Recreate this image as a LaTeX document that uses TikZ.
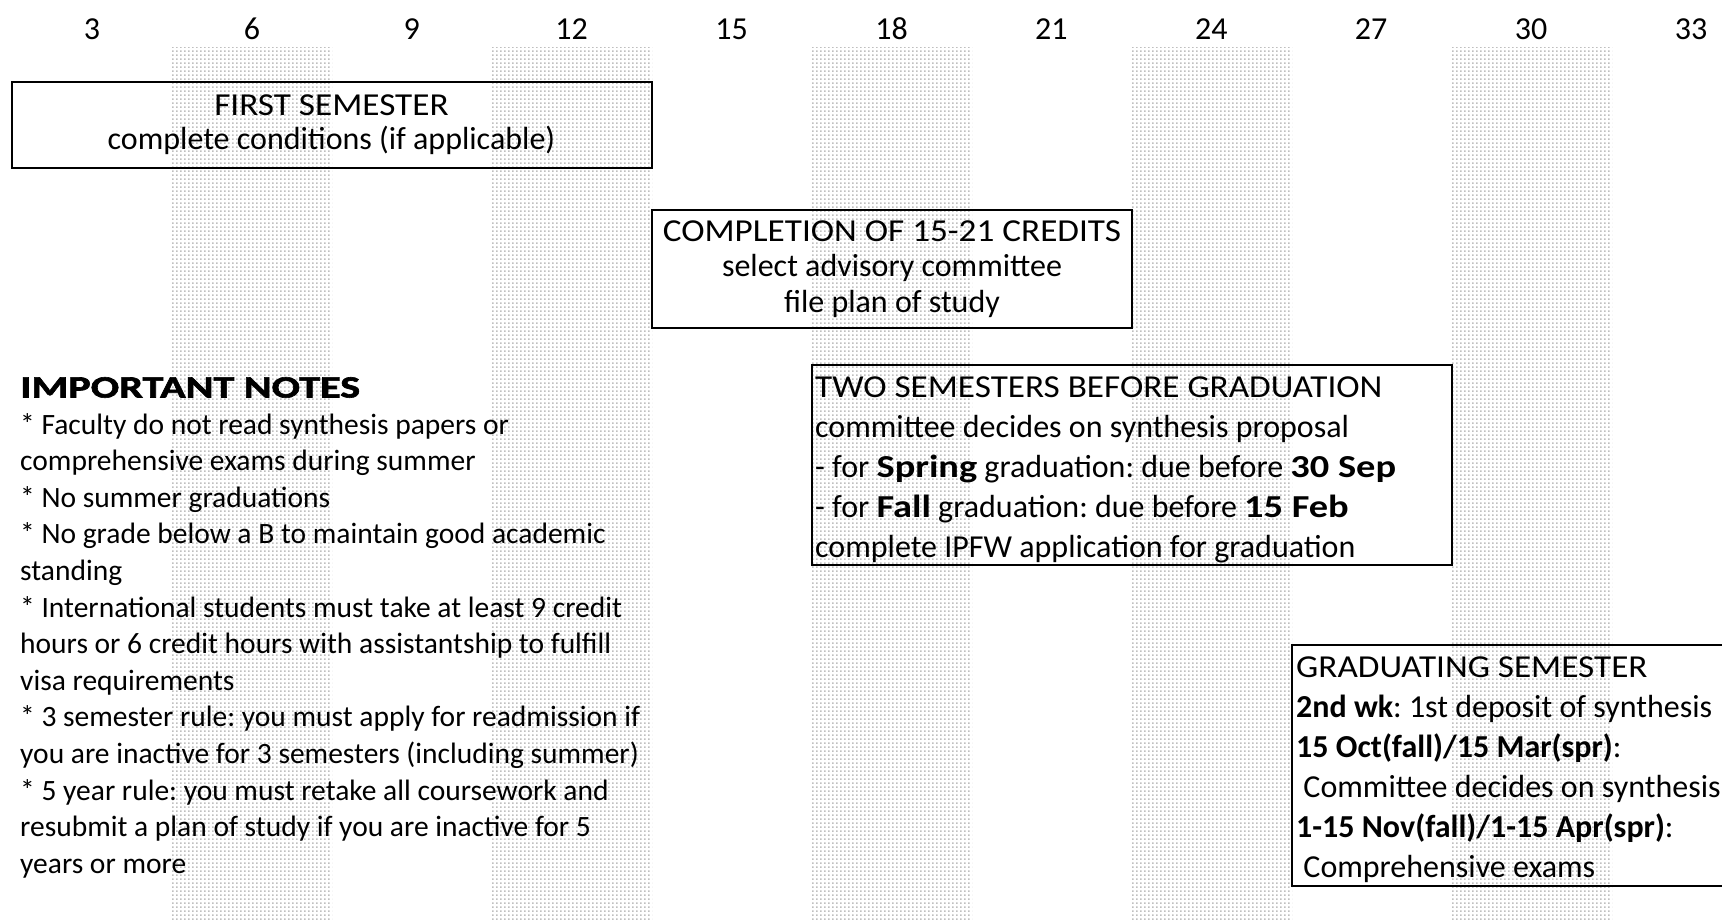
\documentclass[tikz,border=0pt]{standalone}
\usepackage{fontspec}
\setmainfont{Carlito}
\newfontfamily\capsf{Carlito}[FakeStretch=1.1]
\newfontfamily\widebf{Carlito}[FakeStretch=1.2]
\newfontfamily\headf{Carlito}[FakeStretch=1.36, FakeBold=2]
\usetikzlibrary{patterns}
\pgfdeclarepatternformonly{halftone}{\pgfpointorigin}{\pgfpoint{4pt}{4pt}}{\pgfpoint{4pt}{4pt}}{\pgfpathrectangle{\pgfpoint{0pt}{0pt}}{\pgfpoint{2pt}{2pt}}\pgfusepath{fill}}
\newcommand{\hb}[1]{{\bfseries #1}}
\newcommand{\hw}[1]{{\widebf\bfseries #1}}
\newcommand{\cp}[1]{{\capsf #1}}
\tikzset{
  stripe/.style={pattern=halftone, pattern color=black!25},
  evbox/.style={draw=black, line width=2pt, inner sep=0pt},
  num/.style={font=\fontsize{32}{32}\selectfont, inner sep=0pt},
  body/.style={inner sep=0pt, font={\fontsize{32}{#1}\selectfont\frenchspacing}},
  notefont/.style={inner sep=0pt, font={\fontsize{29.5}{36.6}\selectfont\frenchspacing}},
}
\begin{document}
\begin{tikzpicture}[x=1pt,y=-1pt]
\useasboundingbox (0,0) rectangle (1722,919);
\clip (0,0) rectangle (1722,919);
\fill[white] (0,0) rectangle (1722,919);
% shaded semester stripes
\foreach \s in {172,492,812,1132,1452}
  \fill[stripe] (\s,47) rectangle ++(160,880);
% month labels
\foreach \m in {3,6,...,33}
  \node[num] (n\m) at ({92+53.3*(\m-3)},29) {\m};
% box frames
\node[evbox, minimum width=640, minimum height=86]  (first) at (331.5,125) {};
\node[evbox, minimum width=480, minimum height=118] (compl) at (892,269) {};
\node[evbox, minimum width=640, minimum height=200] (two)   at (1132,465) {};
\node[evbox, minimum width=520, minimum height=241] (grad)  at (1552,765.5) {};
% box texts
\node[body=34, align=center] (firstt) at (first.center)
  {\cp{FIRST SEMESTER}\\complete conditions (if applicable)};
\node[body=35.5, align=center] (complt) at (compl.center)
  {\cp{COMPLETION OF 15-21 CREDITS}\\select advisory committee\\file plan of study};
\node[body=40, align=flush left, anchor=west] (twot) at ([xshift=4pt,yshift=-5pt]two.west)
  {\cp{TWO SEMESTERS BEFORE GRADUATION}\\committee decides on synthesis proposal\\- for \hw{Spring} graduation: due before \hw{30 Sep}\\- for \hw{Fall} graduation: due before \hw{15 Feb}\\complete IPFW application for graduation};
\node[body=40, align=flush left, anchor=west] (gradt) at ([xshift=5pt,yshift=-4pt]grad.west)
  {\cp{GRADUATING SEMESTER}\\\hb{2nd wk}: 1st deposit of synthesis\\\hb{15 Oct(fall)/15 Mar(spr)}:\\\ Committee decides on synthesis\\\hb{1-15 Nov(fall)/1-15 Apr(spr)}:\\\ Comprehensive exams};
% notes
\node[notefont, anchor=north west, align=flush left]
  (notes) at (20,377) {{\fontsize{31}{36.6}\selectfont\headf\bfseries IMPORTANT NOTES}\\
* Faculty do not read synthesis papers or\\
comprehensive exams during summer\\
* No summer graduations\\
* No grade below a B to maintain good academic\\
standing\\
* International students must take at least 9 credit\\
hours or 6 credit hours with assistantship to fulfill\\
visa requirements\\
* 3 semester rule: you must apply for readmission if\\
you are inactive for 3 semesters (including summer)\\
* 5 year rule: you must retake all coursework and\\
resubmit a plan of study if you are inactive for 5\\
years or more};
\end{tikzpicture}
\end{document}
